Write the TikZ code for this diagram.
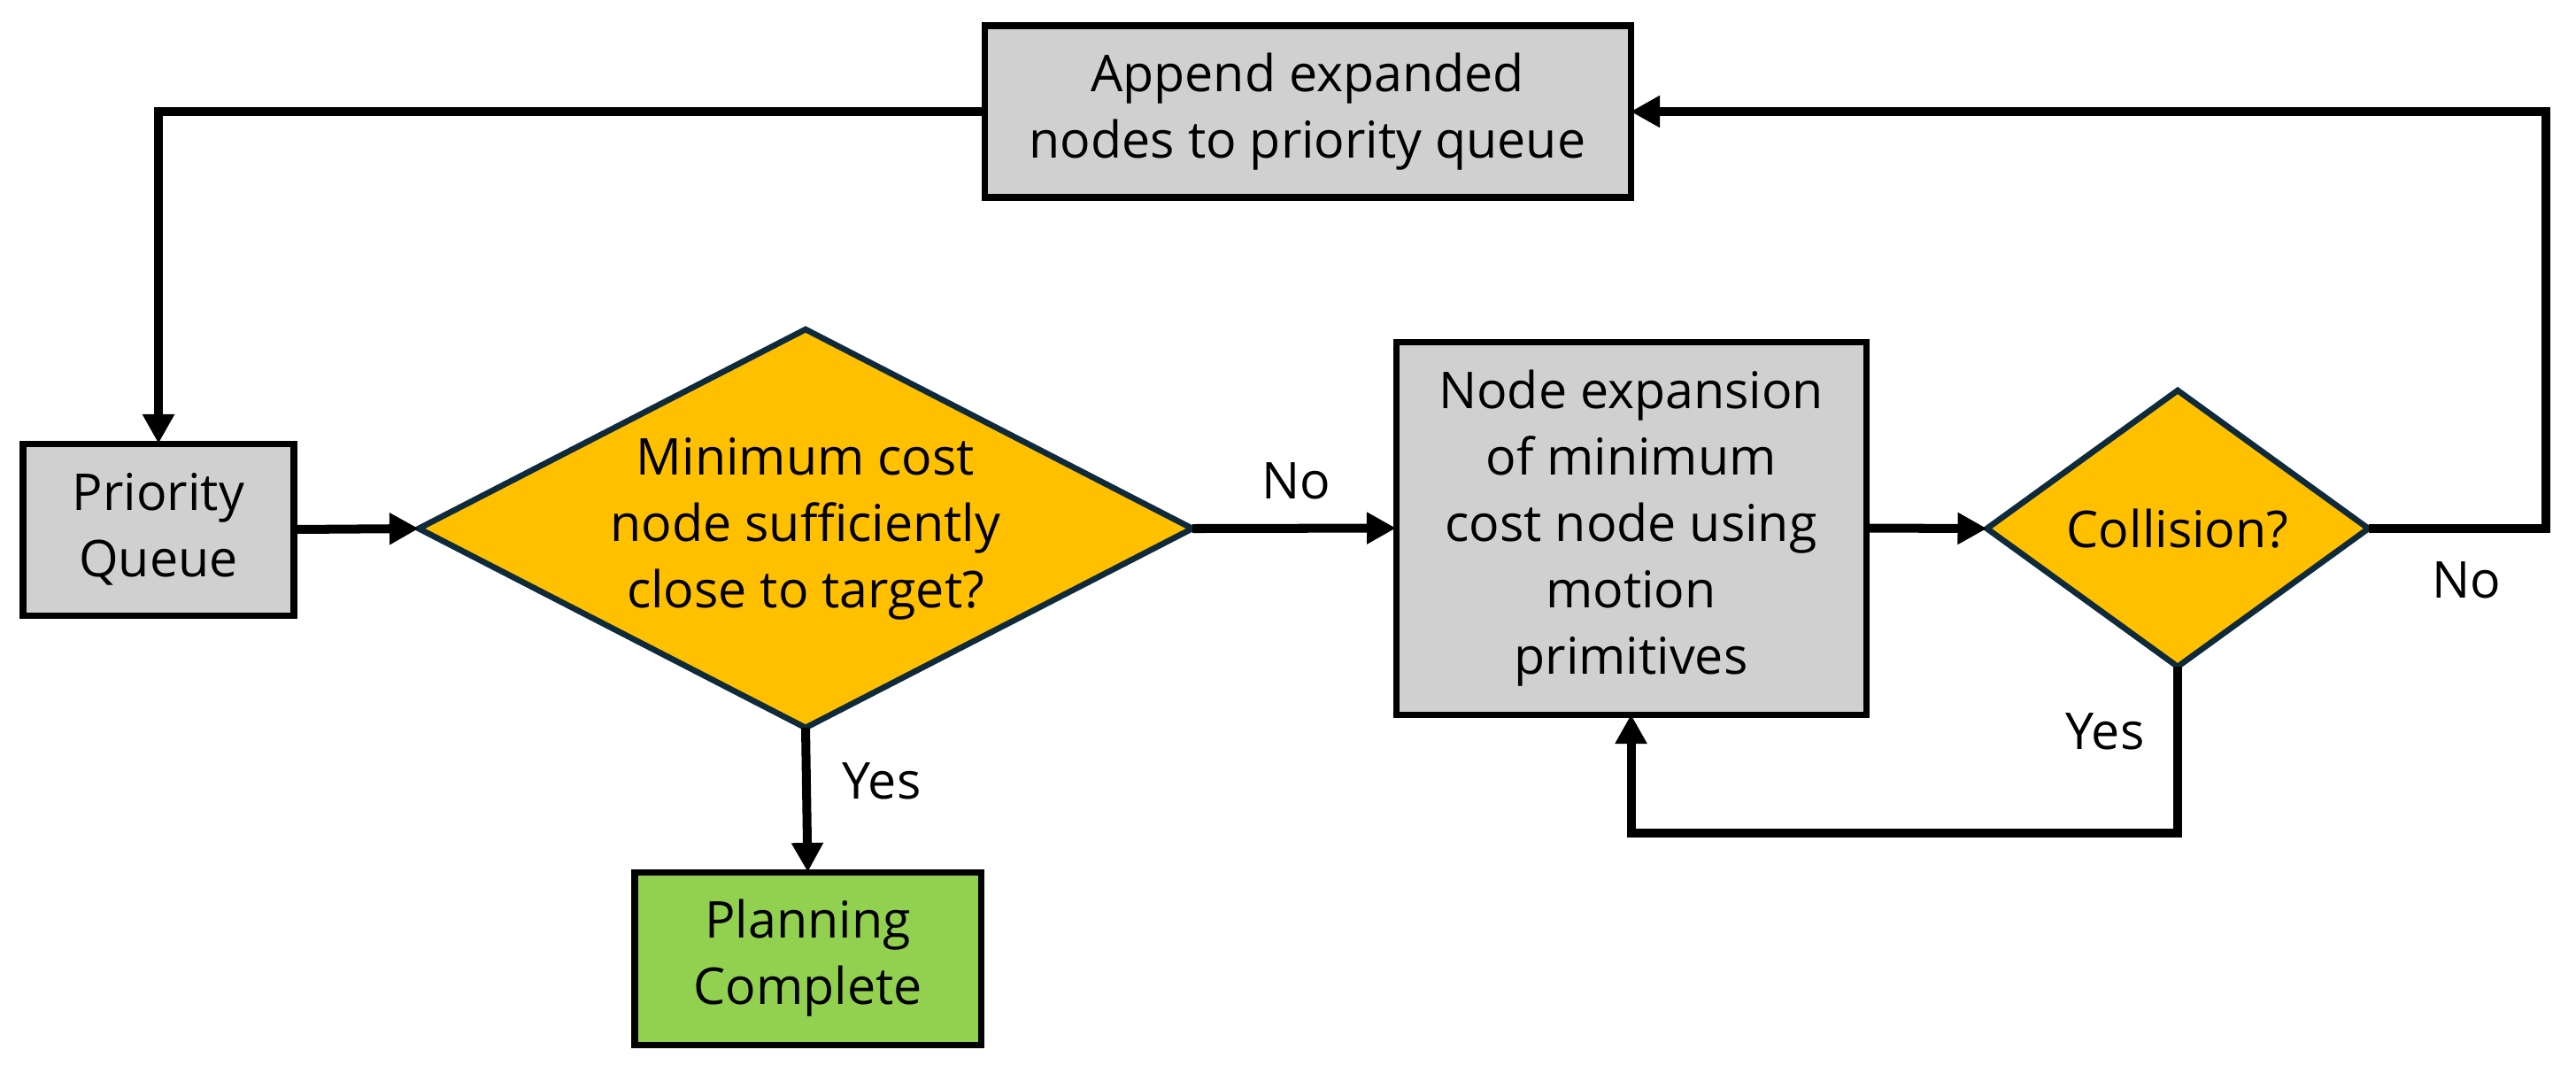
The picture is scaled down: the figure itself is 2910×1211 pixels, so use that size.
\documentclass[tikz,border=0pt]{standalone}
\usepackage{fontspec}
\setmainfont{Open Sans}
\usetikzlibrary{shapes.geometric,arrows.meta}
\definecolor{boxgray}{HTML}{D0D0D0}
\definecolor{decyellow}{HTML}{FFC000}
\definecolor{donegreen}{HTML}{92D050}
\definecolor{decborder}{HTML}{0F2A3A}
\begin{document}
\begin{tikzpicture}[x=0.01cm,y=-0.01cm,
  every node/.style={font=\fontsize{16.3}{21.3}\selectfont, align=center, inner sep=0pt, outer sep=0pt},
  procbox/.style={draw=black, line width=2pt, fill=boxgray, rectangle},
  donebox/.style={draw=black, line width=2pt, fill=donegreen, rectangle},
  decision/.style={draw=decborder, line width=1.9pt, fill=decyellow, diamond},
  conn/.style={draw=black, line width=2.85pt, -{Triangle[length=0.33cm,width=0.34cm]}},
  lbl/.style={}
]
\useasboundingbox (0,0) rectangle (2910,1211);

\node[procbox, minimum width=306*0.01cm, minimum height=194*0.01cm] (pq) at (179,598) {Priority\\Queue};
\node[decision, shape aspect=1.94, minimum width=874*0.01cm, minimum height=450*0.01cm] (d1) at (910,597) {Minimum cost\\node sufficiently\\close to target?};
\node[procbox, minimum width=531*0.01cm, minimum height=421*0.01cm] (nexp) at (1842.5,596.5) {Node expansion\\of minimum\\cost node using\\motion\\primitives};
\node[decision, shape aspect=1.38, minimum width=431*0.01cm, minimum height=312*0.01cm] (coll) at (2460,597) {Collision?};
\node[procbox, minimum width=730*0.01cm, minimum height=194*0.01cm] (app) at (1477,126) {Append expanded\\nodes to priority queue};
\node[donebox, minimum width=391*0.01cm, minimum height=195*0.01cm] (done) at (912.5,1082.5) {Planning\\Complete};

\coordinate (rc) at (2876,597);
\coordinate (yl) at (2460,941);

\draw[conn] (pq.east) -- (d1.west);
\draw[conn] (d1.east) -- (nexp.west);
\draw[conn] (d1.south) -- (done.north);
\draw[conn] (nexp.east) -- (coll.west);
\draw[conn] (coll.east) -- (rc) |- (app.east);
\draw[conn] (app.west) -| (pq.north);
\draw[conn] (coll.south) -- (yl) -| (nexp.south);

\node[lbl] (lno1) at (1464,543) {No};
\node[lbl] (lyes1) at (996,882) {Yes};
\node[lbl] (lno2) at (2786,655) {No};
\node[lbl] (lyes2) at (2378,826) {Yes};
\end{tikzpicture}
\end{document}
